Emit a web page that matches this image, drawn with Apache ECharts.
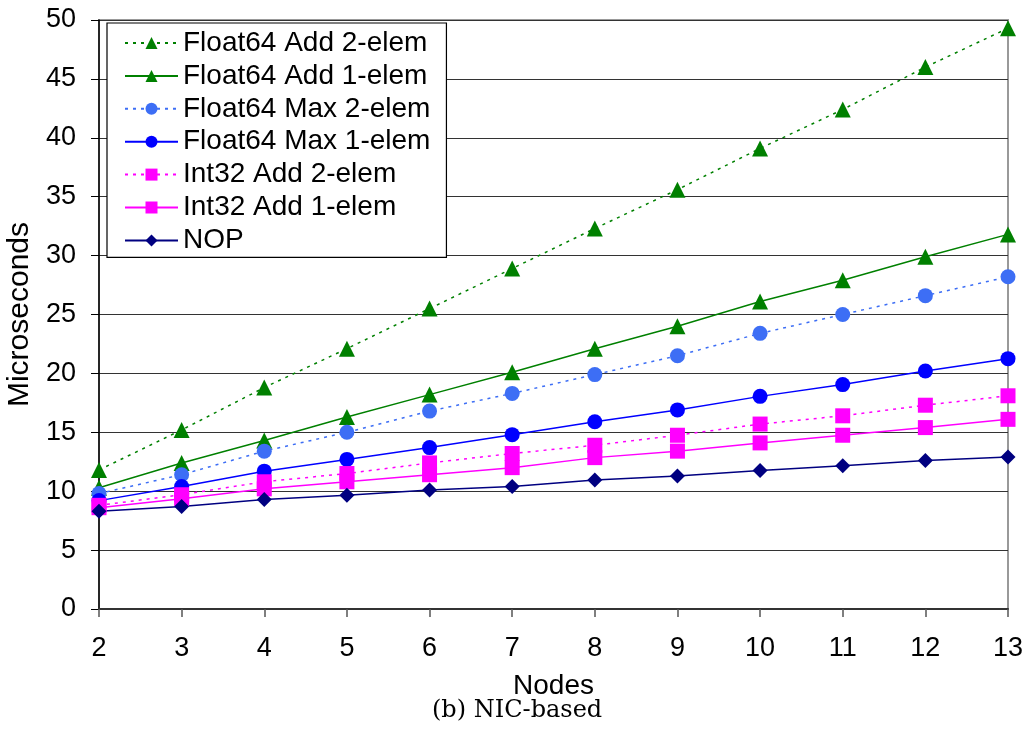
<!DOCTYPE html>
<html>
<head>
<meta charset="utf-8">
<script src="https://cdn.jsdelivr.net/npm/echarts@6/dist/echarts.min.js"></script>
<style>html,body{margin:0;padding:0;background:#fff}#c{width:1030px;height:734px}</style>
</head>
<body>
<div id="c"></div>
<script>
const nodes = [2,3,4,5,6,7,8,9,10,11,12,13];
const f64Add2 = [11.8,15.2,18.8,22.1,25.5,28.9,32.3,35.6,39.1,42.4,46.0,49.3];
const f64Add1 = [10.3,12.4,14.3,16.3,18.2,20.1,22.1,24.0,26.1,27.9,29.9,31.8];
const f64Max2 = [9.8,11.4,13.4,15.0,16.8,18.3,19.9,21.5,23.4,25.0,26.6,28.2];
const f64Max1 = [9.2,10.4,11.7,12.7,13.7,14.8,15.9,16.9,18.05,19.05,20.2,21.25];
const i32Add2 = [8.8,9.7,10.8,11.5,12.4,13.2,13.9,14.75,15.7,16.4,17.3,18.1];
const i32Add1 = [8.6,9.35,10.2,10.8,11.4,12.0,12.85,13.4,14.1,14.75,15.4,16.1];
const nop = [8.3,8.7,9.3,9.65,10.1,10.4,10.95,11.3,11.75,12.15,12.6,12.9];
const yTicks = [0,5,10,15,20,25,30,35,40,45,50];

function pairs(v){ return nodes.map((n,i)=>[n,v[i]]); }
const FONT = '"Liberation Sans", Arial, Helvetica, sans-serif';
function mk(name, data, color, symbol, size, dotted){
  return {
    name, type:'line', data: pairs(data), symbol, symbolSize: size,
    itemStyle:{color},
    lineStyle:{color, width:1.5, type: dotted ? [3,5] : 'solid'},
    emphasis:{disabled:true}, animation:false
  };
}
const chart = echarts.init(document.getElementById('c'), null, {renderer:'canvas'});
chart.setOption({
  animation:false,
  backgroundColor:'#fff',
  grid:{left:99, right:22, top:20, bottom:125, outerBoundsMode:'none', containLabel:false,
    show:true, borderColor:'#999', borderWidth:2, backgroundColor:'transparent'},
  xAxis:{
    type:'value', min:2, max:13, interval:1,
    name:'Nodes', nameLocation:'middle', nameGap:63,
    nameTextStyle:{fontFamily:FONT, fontSize:28, color:'#000'},
    axisLine:{show:true, onZero:false, lineStyle:{color:'#333', width:2}},
    axisTick:{show:true, length:8, lineStyle:{color:'#555', width:1.5}},
    axisLabel:{fontFamily:FONT, fontSize:27, color:'#000', margin:26},
    splitLine:{show:false}
  },
  yAxis:{
    type:'value', min:0, max:50, interval:5,
    name:'Microseconds', nameLocation:'middle', nameGap:59,
    nameTextStyle:{fontFamily:FONT, fontSize:30, color:'#000'},
    axisLine:{show:true, lineStyle:{color:'#000', width:1.5}},
    axisTick:{show:true, length:8, inside:false, lineStyle:{color:'#000', width:1}},
    axisLabel:{fontFamily:FONT, fontSize:27, color:'#000', margin:23,
      formatter: v => yTicks.includes(v) ? String(v) : ''},
    splitLine:{show:true, lineStyle:{color:'#333', width:1.2}}
  },
  legend:{
    show:true, orient:'vertical', left:107, top:23,
    backgroundColor:'#fff', borderColor:'#000', borderWidth:1.2,
    padding:[6,16,3,17], itemGap:4.9, itemWidth:53, itemHeight:15,
    textStyle:{fontFamily:FONT, fontSize:28, color:'#000', lineHeight:27},
    data:['Float64 Add 2-elem','Float64 Add 1-elem','Float64 Max 2-elem','Float64 Max 1-elem','Int32 Add 2-elem','Int32 Add 1-elem','NOP']
  },
  graphic:[{
    type:'text', left:432, top:699,
    style:{text:'(b) NIC-based', font:'24px "DejaVu Serif", "Liberation Serif", serif', fill:'#000'}
  }],
  series:[
    mk('Float64 Add 2-elem', f64Add2, '#008000', 'triangle', 16, true),
    mk('Float64 Add 1-elem', f64Add1, '#008000', 'triangle', 16, false),
    mk('Float64 Max 2-elem', f64Max2, '#3d6ef5', 'circle', 15, true),
    mk('Float64 Max 1-elem', f64Max1, '#0000ff', 'circle', 15, false),
    mk('Int32 Add 2-elem', i32Add2, '#ff00ff', 'rect', 15, true),
    mk('Int32 Add 1-elem', i32Add1, '#ff00ff', 'rect', 15, false),
    mk('NOP', nop, '#000080', 'diamond', 15, false)
  ]
});
</script>
</body>
</html>
